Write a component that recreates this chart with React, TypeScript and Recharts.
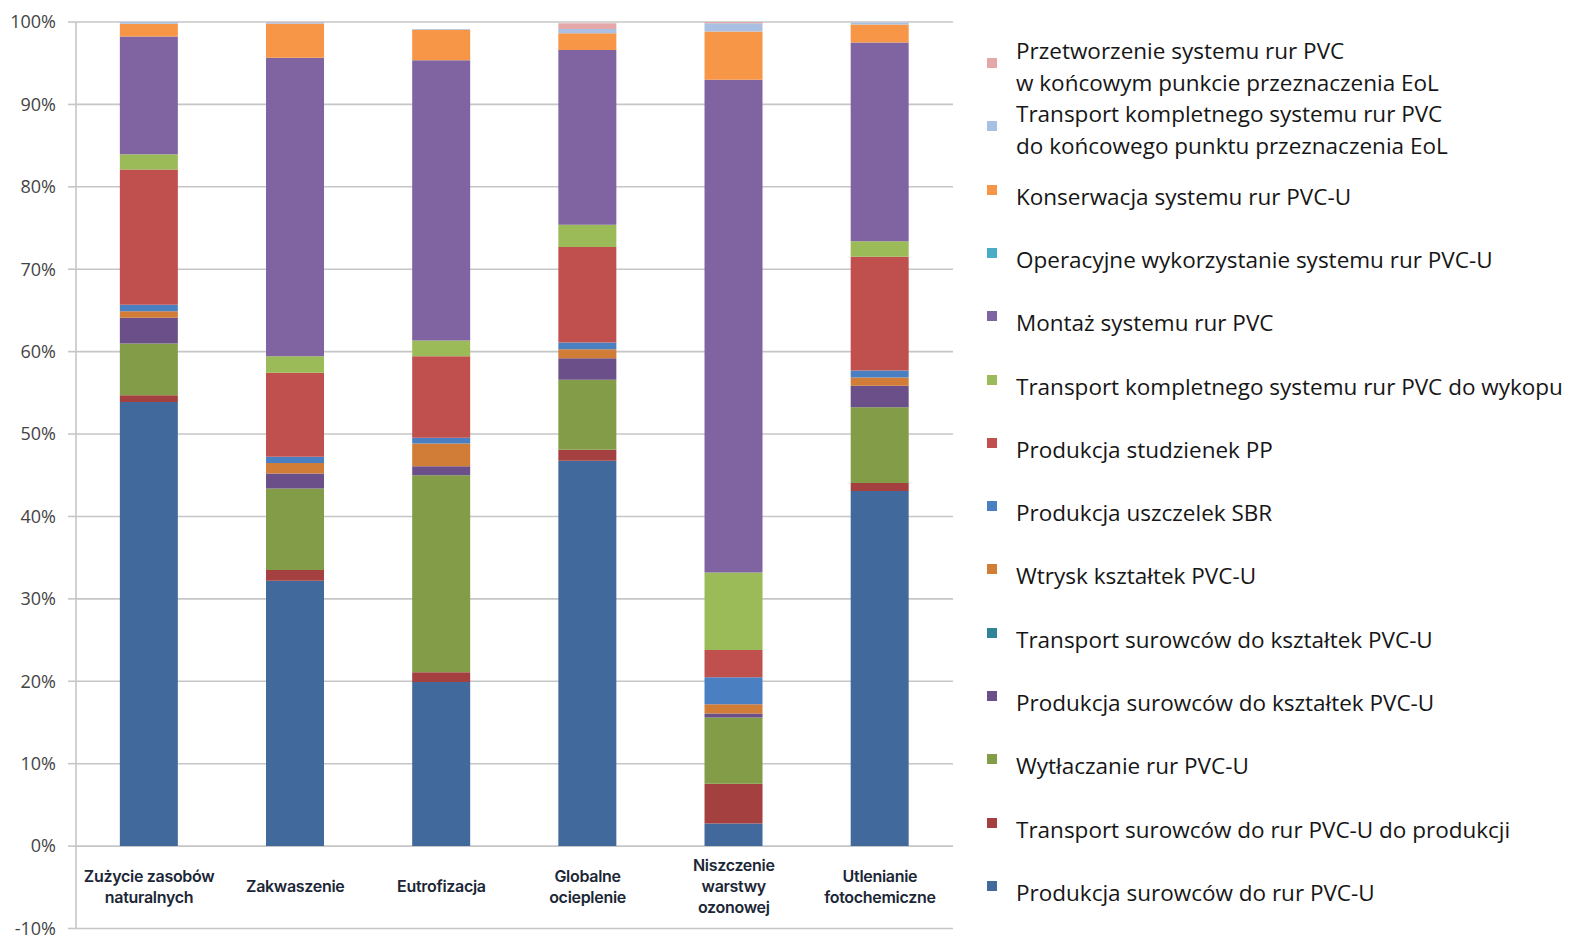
import React from "react";
import { BarChart, Bar, XAxis, YAxis, CartesianGrid, Legend } from "recharts";

// Impact categories (multi-line labels) and the axis scale
const categoryLines: string[][] = [
  ["Zużycie zasobów", "naturalnych"],
  ["Zakwaszenie"],
  ["Eutrofizacja"],
  ["Globalne", "ocieplenie"],
  ["Niszczenie", "warstwy", "ozonowej"],
  ["Utlenianie", "fotochemiczne"],
];
const categories = categoryLines.map((l) => l.join(" "));
const yTicks = [-10, 0, 10, 20, 30, 40, 50, 60, 70, 80, 90, 100];

// Share of each life-cycle stage in the impact category, %
const produkcjaSurowcowRur = [53.9, 32.2, 19.9, 46.75, 2.75, 43.1];
const transportSurowcowRur = [0.8, 1.3, 1.2, 1.35, 4.8, 0.95];
const wytlaczanieRur = [6.3, 9.9, 23.9, 8.5, 8.05, 9.2];
const produkcjaSurowcowKsztaltek = [3.1, 1.8, 1.1, 2.6, 0.5, 2.6];
const transportSurowcowKsztaltek = [0, 0, 0, 0, 0, 0];
const wtryskKsztaltek = [0.8, 1.3, 2.75, 1.1, 1.1, 1.0];
const produkcjaUszczelek = [0.8, 0.75, 0.7, 0.8, 3.3, 0.85];
const produkcjaStudzienek = [16.4, 10.2, 9.9, 11.6, 3.3, 13.8];
const transportDoWykopu = [1.85, 2.0, 1.9, 2.7, 9.4, 1.9];
const montazSystemu = [14.3, 36.2, 34.0, 21.2, 59.8, 24.1];
const operacyjneWykorzystanie = [0, 0, 0, 0, 0, 0];
const konserwacjaSystemu = [1.55, 4.15, 3.7, 2.05, 5.85, 2.2];
const transportDoEoL = [0.2, 0.15, 0.1, 0.5, 1.0, 0.25];
const przetworzenieEoL = [0, 0.05, 0, 0.7, 0.15, 0];

type SeriesDef = { key: string; lines: string[]; color: string; values: number[] };

const seriesDefs: SeriesDef[] = [
  { key: "s01", lines: ["Produkcja surowców do rur PVC-U"], color: "#41699B", values: produkcjaSurowcowRur },
  { key: "s02", lines: ["Transport surowców do rur PVC-U do produkcji"], color: "#A4403F", values: transportSurowcowRur },
  { key: "s03", lines: ["Wytłaczanie rur PVC-U"], color: "#829C47", values: wytlaczanieRur },
  { key: "s04", lines: ["Produkcja surowców do kształtek PVC-U"], color: "#6A4F89", values: produkcjaSurowcowKsztaltek },
  { key: "s05", lines: ["Transport surowców do kształtek PVC-U"], color: "#2F8597", values: transportSurowcowKsztaltek },
  { key: "s06", lines: ["Wtrysk kształtek PVC-U"], color: "#D17D38", values: wtryskKsztaltek },
  { key: "s07", lines: ["Produkcja uszczelek SBR"], color: "#4A80C2", values: produkcjaUszczelek },
  { key: "s08", lines: ["Produkcja studzienek PP"], color: "#C0504D", values: produkcjaStudzienek },
  { key: "s09", lines: ["Transport kompletnego systemu rur PVC do wykopu"], color: "#9BBB59", values: transportDoWykopu },
  { key: "s10", lines: ["Montaż systemu rur PVC"], color: "#8064A2", values: montazSystemu },
  { key: "s11", lines: ["Operacyjne wykorzystanie systemu rur PVC-U"], color: "#4BACC6", values: operacyjneWykorzystanie },
  { key: "s12", lines: ["Konserwacja systemu rur PVC-U"], color: "#F79646", values: konserwacjaSystemu },
  {
    key: "s13",
    lines: ["Transport kompletnego systemu rur PVC", "do końcowego punktu przeznaczenia EoL"],
    color: "#A9C0E2",
    values: transportDoEoL,
  },
  {
    key: "s14",
    lines: ["Przetworzenie systemu rur PVC", "w końcowym punkcie przeznaczenia EoL"],
    color: "#E4A8A9",
    values: przetworzenieEoL,
  },
];

const data = categories.map((category, i) => {
  const row: Record<string, string | number> = { category };
  seriesDefs.forEach((s) => {
    row[s.key] = s.values[i];
  });
  return row;
});

const GRID = "#c6c6c6";

const CategoryTick = (props: any) => {
  const { x, y, payload } = props;
  const idx = categories.indexOf(payload.value);
  const lines = idx >= 0 ? categoryLines[idx] : [String(payload.value)];
  const lh = 21;
  const centerY = y - 42.5;
  const startY = centerY - ((lines.length - 1) * lh) / 2;
  return (
    <text
      x={x}
      y={startY}
      textAnchor="middle"
      fill="#1b2636"
      fontFamily="Inter, 'Noto Sans', sans-serif"
      fontWeight={600}
      fontSize={16}
      letterSpacing={-0.3}
    >
      {lines.map((l, i) => (
        <tspan key={i} x={x} y={startY + i * lh} dominantBaseline="central">
          {l}
        </tspan>
      ))}
    </text>
  );
};

const LegendContent = (props: any) => {
  const payload: any[] = props.payload || [];
  const ordered = [...seriesDefs].reverse().map((s) => {
    const entry = payload.find((p) => p.dataKey === s.key);
    return { def: s, color: entry?.color ?? s.color };
  });
  const rowGap = 63.3;
  return (
    <div style={{ position: "relative", width: 598, height: 936 }}>
      {ordered.map(({ def, color }, i) => {
        const cy = 63 + i * rowGap;
        const multi = def.lines.length > 1;
        const textTop = multi ? cy + 3.5 - 31.5 : cy + 7 - 16;
        return (
          <React.Fragment key={def.key}>
            <div
              style={{
                position: "absolute",
                left: 7,
                top: cy - 5,
                width: 10,
                height: 10,
                background: color,
              }}
            />
            <div
              style={{
                position: "absolute",
                left: 36,
                top: textTop,
                lineHeight: "31.5px",
                fontSize: 22.5,
                fontFamily: "'Open Sans', sans-serif",
                color: "#161616",
                whiteSpace: "nowrap",
              }}
            >
              {def.lines.map((l, j) => (
                <div key={j}>{l}</div>
              ))}
            </div>
          </React.Fragment>
        );
      })}
    </div>
  );
};

export default function App() {
  return (
    <div style={{ position: "absolute", left: 0, top: 0, width: 1578, height: 936, background: "#ffffff", overflow: "hidden" }}>
      <BarChart
        width={1578}
        height={936}
        data={data}
        margin={{ top: 22, right: 625, bottom: 0, left: 0 }}
        barCategoryGap="30%"
      >
        <CartesianGrid vertical={false} stroke={GRID} strokeWidth={1.6} />
        <XAxis
          dataKey="category"
          axisLine={false}
          tickLine={false}
          tickSize={0}
          tickMargin={0}
          height={7.5}
          interval={0}
          tick={<CategoryTick />}
        />
        <YAxis
          type="number"
          domain={[-10, 100]}
          ticks={yTicks}
          interval={0}
          width={76}
          tickFormatter={(v: number) => `${v}%`}
          axisLine={{ stroke: GRID, strokeWidth: 1.6 }}
          tickLine={{ stroke: GRID, strokeWidth: 1.6 }}
          tickSize={8}
          tickMargin={12}
          tick={{ fill: "#444444", fontSize: 18, fontFamily: "'Open Sans', sans-serif" }}
        />
        <Legend
          layout="vertical"
          align="center"
          verticalAlign="middle"
          wrapperStyle={{ left: 980, top: 0, width: 598, height: 936 }}
          content={<LegendContent />}
        />
        {seriesDefs.map((s) => (
          <Bar key={s.key} dataKey={s.key} name={s.lines.join(" ")} stackId="lca" fill={s.color} isAnimationActive={false} />
        ))}
      </BarChart>
    </div>
  );
}
